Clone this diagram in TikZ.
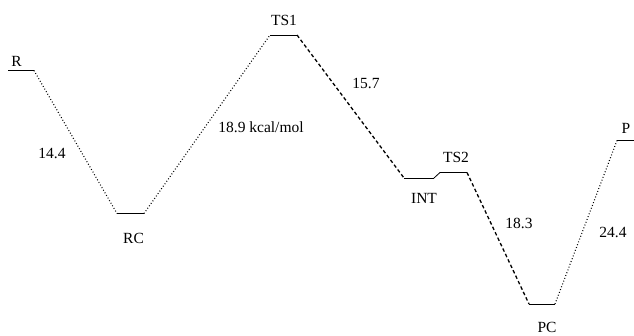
\documentclass[tikz,border=0pt]{standalone}
\usepackage{fontspec}
\setmainfont{Liberation Serif}
\begin{document}
\begin{tikzpicture}[x=1pt,y=-1pt,
  level/.style={line width=0.9pt},
  dotline/.style={line width=1.1pt, dash pattern=on 0.9pt off 2.1pt},
  dashline/.style={line width=1.3pt, dash pattern=on 3.5pt off 2.5pt},
  lbl/.style={font=\fontsize{15.5}{18}\selectfont, inner sep=0pt}]
\useasboundingbox (0,0) rectangle (634,335);
% levels
\coordinate (Rl) at (8,70.5);   \coordinate (Rr) at (34,70.5);
\coordinate (RCl) at (117,213.5); \coordinate (RCr) at (144,213.5);
\coordinate (TSal) at (270,35); \coordinate (TSar) at (297,35);
\coordinate (INTl) at (404,178); \coordinate (INTr) at (434,178);
\coordinate (TSbl) at (440,172.5); \coordinate (TSbr) at (467,172.5);
\coordinate (PCl) at (529,304); \coordinate (PCr) at (555,304);
\coordinate (Pl) at (617,140.5); \coordinate (Pr) at (640,140.5);
\draw[level] (Rl) -- (Rr);
\draw[level] (RCl) -- (RCr);
\draw[level] (TSal) -- (TSar);
\draw[level] (INTl) -- (INTr);
\draw[level] (TSbl) -- (TSbr);
\draw[level] (PCl) -- (PCr);
\draw[level] (Pl) -- (Pr);
% connectors
\draw[dotline] (Rr) -- (RCl);
\draw[dotline] (RCr) -- (TSal);
\draw[dashline] (TSar) -- (INTl);
\draw[line width=0.8pt] (INTr) -- (TSbl);
\draw[dashline] (TSbr) -- (PCl);
\draw[dotline] (PCr) -- (Pl);
% labels
\node[lbl] (lR) at (16.5,61) {R};
\node[lbl] (lRC) at (133.5,238) {RC};
\node[lbl] (lTS1) at (284,20.5) {TS1};
\node[lbl] (lINT) at (424,198.5) {INT};
\node[lbl] (lTS2) at (456,157.5) {TS2};
\node[lbl] (lPC) at (547,327) {PC};
\node[lbl] (lP) at (626,128) {P};
\node[lbl] (e1) at (52,153) {14.4};
\node[lbl] (e2) at (261,127) {18.9 kcal/mol};
\node[lbl] (e3) at (366,83) {15.7};
\node[lbl] (e4) at (519,223) {18.3};
\node[lbl] (e5) at (613,232) {24.4};
\end{tikzpicture}
\end{document}
